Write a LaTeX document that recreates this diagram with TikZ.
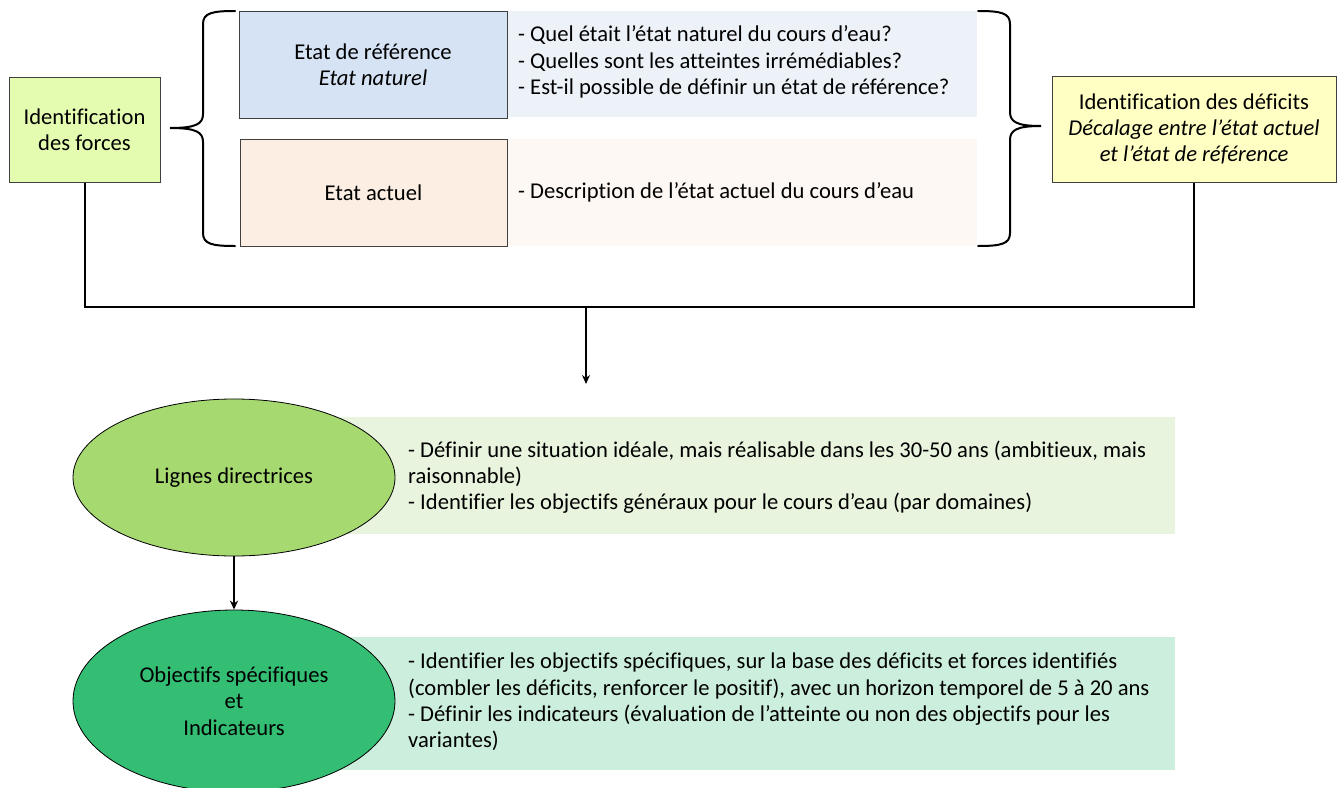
\documentclass[tikz,border=0pt]{standalone}
\usepackage{fontspec}
\setmainfont{Carlito}[Ligatures=NoCommon]
\usetikzlibrary{shapes.geometric,arrows.meta}
\definecolor{forcesfill}{HTML}{E4FCB0}
\definecolor{deffill}{HTML}{FFFFC4}
\definecolor{reffill}{HTML}{D5E3F4}
\definecolor{qfill}{HTML}{EDF2F9}
\definecolor{actfill}{HTML}{FCEEE3}
\definecolor{dfill}{HTML}{FDF8F3}
\definecolor{ellA}{HTML}{A7D971}
\definecolor{rectA}{HTML}{E8F4DD}
\definecolor{ellB}{HTML}{33BE74}
\definecolor{rectB}{HTML}{CCEEDC}
\definecolor{edge}{HTML}{404040}
\tikzset{
  every node/.style={font=\fontsize{22.6}{26.3}\selectfont, inner sep=0pt},
  box/.style={draw=edge, line width=1pt, align=center},
  band/.style={inner sep=0pt},
  txt/.style={align=left, anchor=west},
  ell/.style={ellipse, draw=black, line width=0.8pt, align=center},
  brace/.style={line width=2pt, line cap=round},
  conn/.style={line width=2pt},
  arr/.style={line width=2pt, -{Stealth[length=9pt,width=8pt]}}
}
\begin{document}
\begin{tikzpicture}[x=1pt,y=-1pt]
\useasboundingbox (0,0) rectangle (1343,787);
% top bands
\node[band, fill=qfill, minimum width=470pt, minimum height=106pt] (qband) at (742,64) {};
\node[txt] (qtext) at (518,62) {- Quel était l’état naturel du cours d’eau?\\- Quelles sont les atteintes irrémédiables?\\- Est-il possible de définir un état de référence?};
\node[band, fill=dfill, minimum width=470pt, minimum height=107pt] (dband) at (742,192.5) {};
\node[txt] (dtext) at (518,192) {- Description de l’état actuel du cours d’eau};
% boxes
\node[box, fill=reffill, minimum width=268pt, minimum height=107pt] (ref) at (373,64.5) {Etat de référence\\\textit{Etat naturel}};
\node[box, fill=actfill, minimum width=267pt, minimum height=107pt] (act) at (373.5,192.5) {Etat actuel};
\node[box, fill=forcesfill, minimum width=151pt, minimum height=105pt] (forces) at (84.5,129.5) {Identification\\des forces};
\node[box, fill=deffill, minimum width=284pt, minimum height=106pt] (def) at (1194,129) {Identification des déficits\\\textit{Décalage entre l’état actuel}\\\textit{et l’état de référence}};
% braces
\draw[brace] (235,11) .. controls (212,11) and (203,13) .. (203,24) -- (203,114)
  .. controls (203,124) and (196,128) .. (170,128)
  .. controls (196,128) and (203,132) .. (203,142) -- (203,233)
  .. controls (203,244) and (212,246) .. (235,246);
\draw[brace] (978,11) .. controls (1001,11) and (1010,13) .. (1010,24) -- (1010,112)
  .. controls (1010,122) and (1017,126) .. (1041,126)
  .. controls (1017,126) and (1010,130) .. (1010,140) -- (1010,233)
  .. controls (1010,244) and (1001,246) .. (978,246);
% connectors
\coordinate (join) at (586,307);
\coordinate (drop) at (586,384);
\draw[conn] (forces.south) |- (join) -| (def.south);
\draw[arr] (join) -- (drop);
% lower bands
\node[band, fill=rectA, minimum width=835pt, minimum height=117pt] (bandA) at (757.5,475.5) {};
\node[txt] (textA) at (408,477) {- Définir une situation idéale, mais réalisable dans les 30-50 ans (ambitieux, mais\\raisonnable)\\- Identifier les objectifs généraux pour le cours d’eau (par domaines)};
\node[band, fill=rectB, minimum width=835pt, minimum height=133pt] (bandB) at (757.5,703.5) {};
\node[txt] (textB) at (408,702) {- Identifier les objectifs spécifiques, sur la base des déficits et forces identifiés\\(combler les déficits, renforcer le positif), avec un horizon temporel de 5 à 20 ans\\- Définir les indicateurs (évaluation de l’atteinte ou non des objectifs pour les\\variantes)};
% ellipses
\node[ell, fill=ellA, minimum width=322pt, minimum height=157pt] (lignes) at (234,477.5) {Lignes directrices};
\node[ell, fill=ellB, minimum width=322pt, minimum height=182pt] (obj) at (234,701) {Objectifs spécifiques\\et\\Indicateurs};
\draw[arr] (lignes.south) -- (obj.north);
\end{tikzpicture}
\end{document}
